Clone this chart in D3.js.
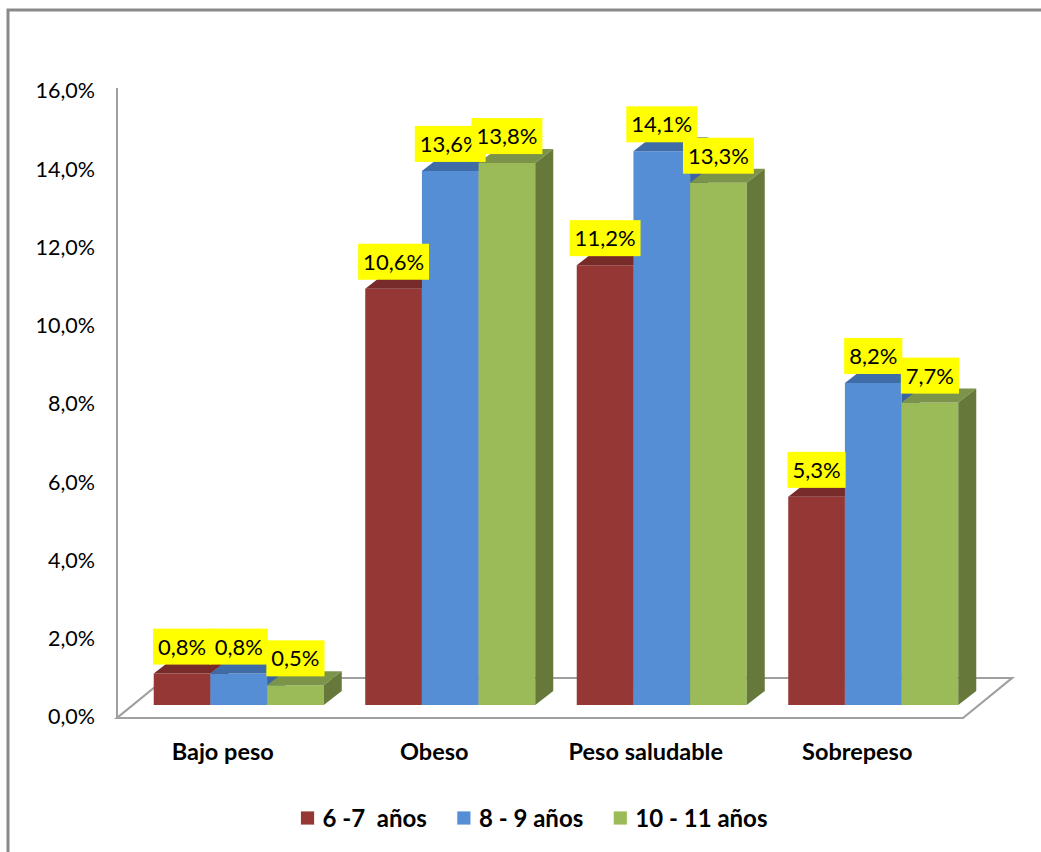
<!DOCTYPE html>
<html>
<head>
<meta charset="utf-8">
<script src="https://cdn.jsdelivr.net/npm/d3@7"></script>
<style>
  body { margin: 0; background: #fff; }
  svg { display: block; }
  text { font-family: Lato, "Noto Sans", sans-serif; fill: #000; }
</style>
</head>
<body>
<svg id="chart" width="1041" height="852"></svg>
<script>
// Weight status by age group (percent of children)
const categories = ["Bajo peso", "Obeso", "Peso saludable", "Sobrepeso"];
const seriesNames = ["6 -7  años", "8 - 9 años", "10 - 11 años"];
const age6to7 = [0.8, 10.6, 11.2, 5.3];
const age8to9 = [0.8, 13.6, 14.1, 8.2];
const age10to11 = [0.5, 13.8, 13.3, 7.7];
const yTicks = [0, 2, 4, 6, 8, 10, 12, 14, 16];

const seriesValues = [age6to7, age8to9, age10to11];
const faceColors = [
  { front: "#953735", top: "#772c2a", side: "#6f2826" },
  { front: "#558ed5", top: "#3f6ca6", side: "#3b64a0" },
  { front: "#9bbb59", top: "#7b944a", side: "#66793a" }
];

const svg = d3.select("#chart");
const locale = d3.formatLocale({ decimal: ",", thousands: ".", grouping: [3], currency: ["", "€"] });
const fmt = v => locale.format(".1f")(v) + "%";

// Chart frame
svg.append("rect")
  .attr("x", 8).attr("y", 10).attr("width", 1100).attr("height", 900)
  .attr("fill", "none").attr("stroke", "#8a8a8a").attr("stroke-width", 3);

// Floor plane in oblique projection
const floorY = 718, floorX0 = 117, floorX1 = 963;
const depth = { dx: 49, dy: -40 };       // full floor depth
const barOffset = { dx: 16, dy: -13 };   // bar front relative to floor front
const barDepth = { dx: 18, dy: -14 };    // bar thickness in depth

const x = d3.scaleBand().domain(categories).range([floorX0, floorX1]);
const xInner = d3.scaleBand().domain(seriesNames).range([0, x.bandwidth()])
  .paddingInner(0).paddingOuter(0.366);
const yBar = d3.scaleLinear().domain([0, 16]).range([floorY + barOffset.dy, floorY + barOffset.dy - 16 * 39.27]);
const yAxisScale = d3.scaleLinear().domain([0, 16]).range([717, 91]);

svg.append("polygon")
  .attr("points", [
    [floorX0, floorY], [floorX1, floorY],
    [floorX1 + depth.dx, floorY + depth.dy], [floorX0 + depth.dx, floorY + depth.dy]
  ].map(p => p.join(",")).join(" "))
  .attr("fill", "#fff").attr("stroke", "#a0a0a0").attr("stroke-width", 2.2)
  .attr("stroke-linejoin", "miter");

// Vertical axis line
svg.append("line")
  .attr("x1", floorX0).attr("x2", floorX0)
  .attr("y1", 88).attr("y2", floorY)
  .attr("stroke", "#a0a0a0").attr("stroke-width", 2);

// Value axis labels
const yAxisG = svg.append("g")
  .attr("transform", `translate(${floorX0},0)`)
  .call(d3.axisLeft(yAxisScale).tickValues(yTicks).tickSize(0).tickPadding(22).tickFormat(fmt));
yAxisG.select(".domain").remove();
yAxisG.selectAll("text")
  .attr("font-family", "Lato, 'Noto Sans', sans-serif")
  .attr("font-size", 21.5).attr("fill", "#1a1a1a");

// Category axis labels
const xAxisG = svg.append("g")
  .attr("transform", `translate(0,${floorY})`)
  .call(d3.axisBottom(x).tickSize(0).tickPadding(25));
xAxisG.select(".domain").remove();
xAxisG.selectAll("text")
  .attr("font-family", "Lato, 'Noto Sans', sans-serif")
  .attr("font-size", 23.5).attr("font-weight", "bold").attr("fill", "#000");

// Bars: front, top and right side faces, drawn left to right
const bars = [];
categories.forEach((c, ci) => {
  seriesNames.forEach((s, si) => {
    bars.push({ c, s, si, v: seriesValues[si][ci] });
  });
});

const barG = svg.append("g");
bars.forEach(b => {
  const x0 = x(b.c) + xInner(b.s) + barOffset.dx;
  const x1 = x0 + xInner.bandwidth();
  const yT = yBar(b.v), yB = yBar(0);
  const col = faceColors[b.si];
  const g = barG.append("g");
  g.append("polygon")
    .attr("points", [[x0, yB], [x1, yB], [x1, yT], [x0, yT]].map(p => p.join(",")).join(" "))
    .attr("fill", col.front);
  g.append("polygon")
    .attr("points", [[x0, yT], [x1, yT], [x1 + barDepth.dx, yT + barDepth.dy], [x0 + barDepth.dx, yT + barDepth.dy]]
      .map(p => p.join(",")).join(" "))
    .attr("fill", col.top);
  g.append("polygon")
    .attr("points", [[x1, yB], [x1 + barDepth.dx, yB + barDepth.dy], [x1 + barDepth.dx, yT + barDepth.dy], [x1, yT]]
      .map(p => p.join(",")).join(" "))
    .attr("fill", col.side);
  b.cx = (x0 + x1) / 2;
  b.yT = yT;
});

// Data labels on yellow boxes
const labelG = svg.append("g");
bars.forEach(b => {
  const g = labelG.append("g").attr("transform", `translate(${b.cx},${b.yT - 27})`);
  const rect = g.append("rect").attr("fill", "#ffff00");
  const t = g.append("text")
    .attr("text-anchor", "middle").attr("dy", "0.36em")
    .attr("font-size", 22).attr("fill", "#1a1a1a")
    .text(fmt(b.v));
  const w = t.node().getComputedTextLength() + 10;
  rect.attr("x", -w / 2).attr("y", -18).attr("width", w).attr("height", 36);
});

// Legend
const legendG = svg.append("g");
let lx = 0;
seriesNames.forEach((s, i) => {
  const g = legendG.append("g").attr("transform", `translate(${lx},0)`);
  g.append("rect").attr("x", 0).attr("y", -7).attr("width", 14).attr("height", 14)
    .attr("fill", faceColors[i].front).attr("stroke", "#fff").attr("stroke-width", 0.8);
  const t = g.append("text").attr("x", 22).attr("dy", "0.36em")
    .attr("font-size", 24).attr("font-weight", "bold")
    .attr("xml:space", "preserve").style("white-space", "pre")
    .text(s);
  const w = 22 + t.node().getComputedTextLength();
  lx += w + 30;
});
const legendWidth = lx - 30;
legendG.attr("transform", `translate(${534 - legendWidth / 2},818)`);
</script>
</body>
</html>
